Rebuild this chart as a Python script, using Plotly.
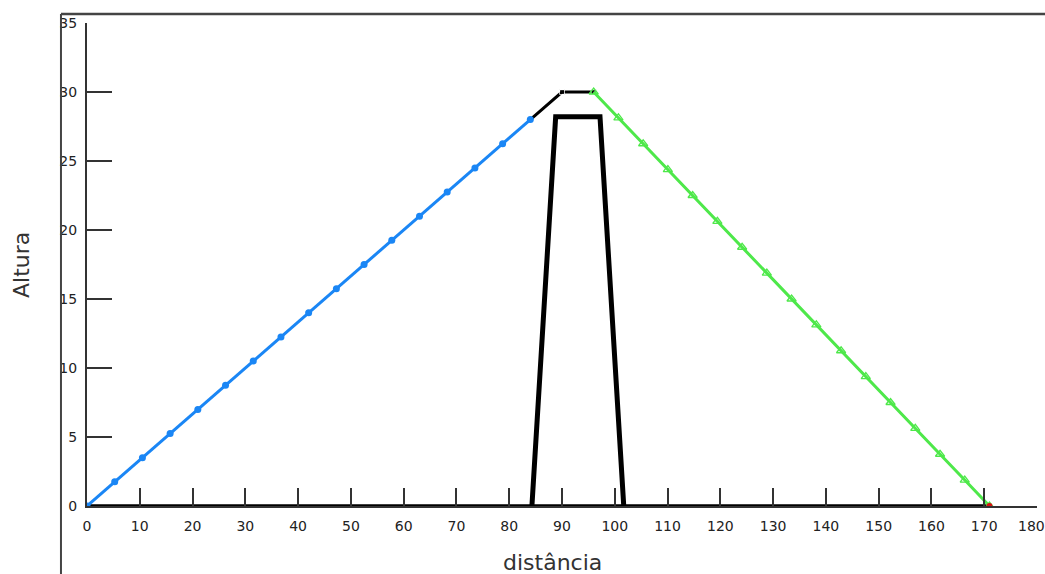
import plotly.graph_objects as go

# ---- data ----
blue_x = [0, 5.25, 10.5, 15.75, 21, 26.25, 31.5, 36.75, 42, 47.25, 52.5, 57.75, 63, 68.25, 73.5, 78.75, 84]
blue_y = [0, 1.75, 3.5, 5.25, 7, 8.75, 10.5, 12.25, 14, 15.75, 17.5, 19.25, 21, 22.75, 24.5, 26.25, 28]

top_x = [84, 90, 96]
top_y = [28, 30, 30]

green_x = [96, 100.69, 105.38, 110.06, 114.75, 119.44, 124.13, 128.81, 133.5, 138.19, 142.88, 147.56, 152.25, 156.94, 161.63, 166.31, 171]
green_y = [30, 28.13, 26.25, 24.38, 22.5, 20.63, 18.75, 16.88, 15, 13.13, 11.25, 9.38, 7.5, 5.63, 3.75, 1.88, 0]

trap_x = [84.3, 88.8, 97.2, 101.7]
trap_y = [0, 28.2, 28.2, 0]

ground_x = [0, 171]
ground_y = [0, 0]

end_x = [171]
end_y = [0]

x_ticks = [0, 10, 20, 30, 40, 50, 60, 70, 80, 90, 100, 110, 120, 130, 140, 150, 160, 170, 180]
y_ticks = [0, 5, 10, 15, 20, 25, 30, 35]

FONT = "DejaVu Sans, Verdana, sans-serif"

# last x label is drawn as an annotation nudged left so it fits in the window
x_ticktext = [str(v) for v in x_ticks[:-1]] + [""]
last_x = x_ticks[-1]

fig = go.Figure()
fig.add_trace(go.Scatter(x=ground_x, y=ground_y, mode="lines",
                         line=dict(color="black", width=3.5), showlegend=False))
fig.add_trace(go.Scatter(x=top_x, y=top_y, mode="lines+markers",
                         line=dict(color="black", width=3),
                         marker=dict(color="black", size=[0, 5, 5], symbol="square"), showlegend=False))
fig.add_trace(go.Scatter(x=blue_x, y=blue_y, mode="lines+markers",
                         line=dict(color="#1a86f5", width=3),
                         marker=dict(color="#1a86f5", size=7, symbol="circle"), showlegend=False))
fig.add_trace(go.Scatter(x=green_x, y=green_y, mode="lines+markers",
                         line=dict(color="#4ee84a", width=3),
                         marker=dict(color="#4ee84a", size=8, symbol="triangle-up-open",
                                     line=dict(width=1.3, color="#4ee84a")), showlegend=False))
fig.add_trace(go.Scatter(x=trap_x, y=trap_y, mode="lines",
                         line=dict(color="black", width=5), showlegend=False))
fig.add_trace(go.Scatter(x=end_x, y=end_y, mode="markers",
                         marker=dict(color="#d81010", size=6, symbol="circle"), showlegend=False))

fig.update_layout(
    width=1045, height=574,
    margin=dict(l=87, r=8, t=23, b=68, autoexpand=False),
    paper_bgcolor="white", plot_bgcolor="white",
    font=dict(family=FONT, color="#222"),
    xaxis=dict(range=[0, 180], tickvals=x_ticks, ticktext=x_ticktext, automargin=False,
               showgrid=False, zeroline=False, showline=True, linecolor="#333", linewidth=2,
               ticks="inside", ticklen=18, tickwidth=2, tickcolor="#333",
               tickfont=dict(size=14, family=FONT, color="#222"), ticklabelstandoff=6,
               ticklabeloverflow="allow"),
    yaxis=dict(range=[0, 35], tickvals=y_ticks, ticktext=[str(v) for v in y_ticks], automargin=False,
               showgrid=False, zeroline=False, showline=True, linecolor="#333", linewidth=2,
               ticks="inside", ticklen=25, tickwidth=2, tickcolor="#333",
               tickfont=dict(size=14, family=FONT, color="#222"), ticklabelstandoff=5,
               ticklabeloverflow="allow"),
    annotations=[
        dict(text="Altura", xref="paper", yref="paper", x=-0.0684, y=0.499,
             xanchor="center", yanchor="middle", textangle=-90, showarrow=False,
             font=dict(size=22, family=FONT, color="#333")),
        dict(text="distância", xref="paper", yref="paper", x=0.4895, y=-0.116,
             xanchor="center", yanchor="middle", showarrow=False,
             font=dict(size=22, family=FONT, color="#333")),
        dict(text=str(last_x), xref="x", yref="paper", x=last_x, y=-0.0414, xshift=-6,
             xanchor="center", yanchor="middle", showarrow=False,
             font=dict(size=14, family=FONT, color="#222")),
    ],
    shapes=[
        dict(type="line", xref="paper", yref="paper", x0=-0.0274, x1=-0.0274, y0=1.0186, y1=-0.15,
             line=dict(color="#444", width=2)),
        dict(type="line", xref="paper", yref="paper", x0=-0.0274, x1=1.01, y0=1.0186, y1=1.0186,
             line=dict(color="#444", width=2.5)),
    ],
)

fig.write_html("out.html",
               config={"displayModeBar": False},
               post_script="document.body.style.margin='0';document.body.style.overflow='hidden';")
